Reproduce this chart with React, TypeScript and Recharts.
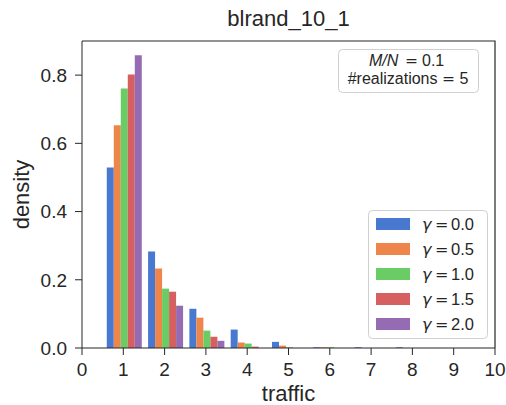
import React from 'react';
import { BarChart, Bar, XAxis, YAxis } from 'recharts';

// Histogram bins (traffic value at the bin centre)
const traffic = [1, 2, 3, 4, 5, 6, 7, 8];

// Density per bin for each gamma value
const gamma00 = [0.529, 0.283, 0.115, 0.054, 0.018, 0.002, 0.002, 0.002];
const gamma05 = [0.653, 0.233, 0.089, 0.016, 0.007, 0.002, 0, 0];
const gamma10 = [0.761, 0.174, 0.051, 0.013, 0.002, 0.002, 0, 0];
const gamma15 = [0.802, 0.165, 0.033, 0.004, 0, 0, 0, 0];
const gamma20 = [0.858, 0.124, 0.021, 0, 0, 0, 0, 0];

const gammaLabels = ['0.0', '0.5', '1.0', '1.5', '2.0'];
const seriesValues = [gamma00, gamma05, gamma10, gamma15, gamma20];
const seriesColors = ['#4878d0', '#ee854a', '#6acc64', '#d65f5f', '#956cb4'];

const xTicks = [0, 1, 2, 3, 4, 5, 6, 7, 8, 9, 10];
const yTicks = [0, 0.2, 0.4, 0.6, 0.8];

const data = traffic.map((t, i) => {
  const row: Record<string, number> = { traffic: t };
  seriesValues.forEach((vals, s) => {
    row[`g${s}`] = vals[i];
  });
  return row;
});

const FONT = '"Liberation Sans", Arial, sans-serif';
const MATH = '"DejaVu Sans", sans-serif';
const INK = '#262626';

const W = 506;
const H = 405;
const M = { top: 41, right: 11, bottom: 0, left: 0 };
const Y_AXIS_W = 82;
const X_AXIS_H = 57;

export default function App() {
  const plotX = M.left + Y_AXIS_W;
  const plotY = M.top;
  const plotW = W - M.right - plotX;
  const plotH = H - M.bottom - X_AXIS_H - plotY;

  return (
    <div style={{ position: 'absolute', left: 0, top: 0, width: W, height: H, background: '#fff', fontFamily: FONT }}>
      <BarChart width={W} height={H} data={data} barGap={0} barCategoryGap="10%" margin={M}>
        <XAxis
          dataKey="traffic"
          type="number"
          domain={[0, 10]}
          ticks={xTicks}
          interval={0}
          height={X_AXIS_H}
          stroke={INK}
          tickSize={7}
          tickMargin={8}
          tick={{ fill: INK, fontSize: 19, fontFamily: FONT }}
          label={{
            content: ({ viewBox }: any) => (
              <text
                x={viewBox.x + viewBox.width / 2}
                y={401}
                textAnchor="middle"
                fill={INK}
                fontSize={22}
                fontFamily={FONT}
              >
                traffic
              </text>
            ),
          }}
        />
        <YAxis
          type="number"
          domain={[0, 0.9]}
          ticks={yTicks}
          width={Y_AXIS_W}
          stroke={INK}
          tickSize={7}
          tickMargin={8}
          tickFormatter={(v: number) => v.toFixed(1)}
          tick={{ fill: INK, fontSize: 19, fontFamily: FONT }}
          label={{
            content: ({ viewBox }: any) => {
              const cx = 29;
              const cy = viewBox.y + viewBox.height / 2;
              return (
                <text
                  x={cx}
                  y={cy}
                  transform={`rotate(-90 ${cx} ${cy})`}
                  textAnchor="middle"
                  fill={INK}
                  fontSize={22}
                  fontFamily={FONT}
                >
                  density
                </text>
              );
            },
          }}
        />
        {gammaLabels.map((g, s) => (
          <Bar key={g} dataKey={`g${s}`} name={`γ = ${g}`} fill={seriesColors[s]} isAnimationActive={false} />
        ))}
      </BarChart>

      <svg width={W} height={H} style={{ position: 'absolute', left: 0, top: 0, pointerEvents: 'none' }}>
        {/* top and right spines */}
        <polyline
          points={`${plotX},${plotY} ${plotX + plotW},${plotY} ${plotX + plotW},${plotY + plotH}`}
          fill="none"
          stroke={INK}
          strokeWidth={1.2}
        />

        {/* title */}
        <text x={plotX + plotW / 2} y={26} textAnchor="middle" fill={INK} fontSize={22} fontFamily={FONT}>
          blrand_10_1
        </text>

        {/* parameter box */}
        <rect x={338.5} y={49.5} width={140} height={43} rx={4} fill="rgba(255,255,255,0.8)" stroke="#d0d0d0" />
        <text y={66} fill={INK} fontSize={16} fontFamily={FONT}>
          <tspan x={369} fontStyle="italic">M/N</tspan>
          <tspan x={405} fontFamily={MATH} fontSize={15.5}>=</tspan>
          <tspan x={422}>0.1</tspan>
        </text>
        <text x={408} y={84} textAnchor="middle" fill={INK} fontSize={16} fontFamily={FONT}>
          #realizations <tspan fontFamily={MATH} fontSize={15.5}>=</tspan> 5
        </text>

        {/* legend */}
        <rect x={368.5} y={210.5} width={119} height={128} rx={4} fill="rgba(255,255,255,0.8)" stroke="#d0d0d0" />
        {gammaLabels.map((g, s) => {
          const cy = 224 + s * 25;
          return (
            <g key={g}>
              <rect x={376} y={cy - 6} width={34} height={12} fill={seriesColors[s]} />
              <text y={cy + 5.5} fill={INK} fontSize={16.5} fontFamily={FONT}>
                <tspan x={422} fontStyle="italic" fontFamily={MATH} fontSize={16}>γ</tspan>
                <tspan x={435} fontFamily={MATH} fontSize={16}>=</tspan>
                <tspan x={451}>{g}</tspan>
              </text>
            </g>
          );
        })}
      </svg>
    </div>
  );
}
